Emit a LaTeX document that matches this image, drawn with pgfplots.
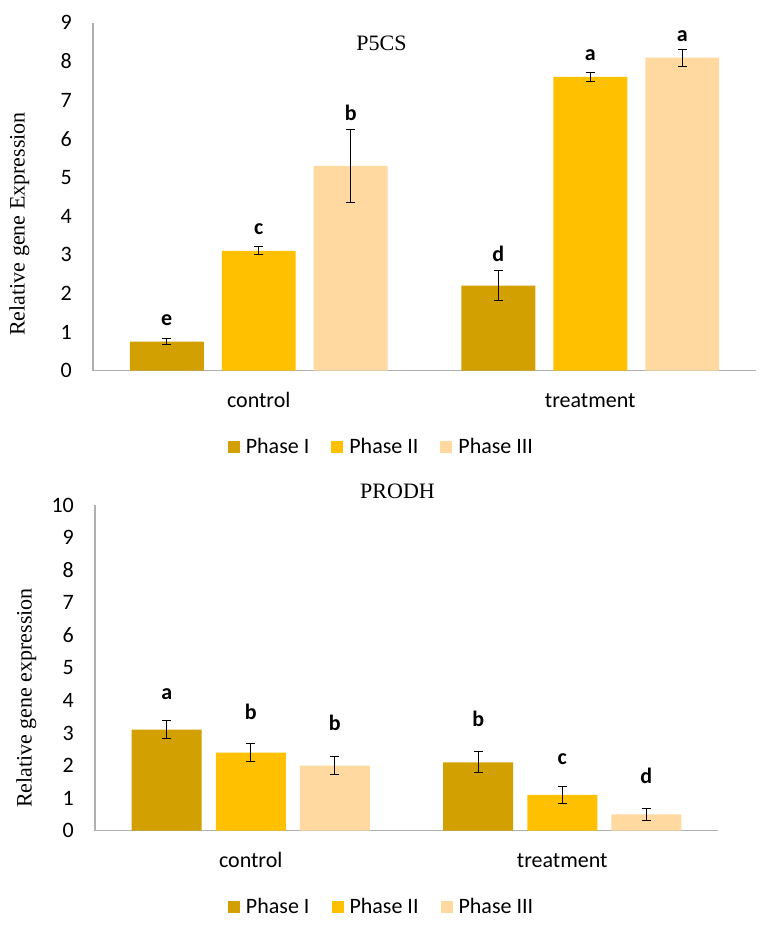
\documentclass[border=0pt]{standalone}
\usepackage{fontspec}
\setmainfont{Liberation Serif}
\newfontfamily\carl{Carlito}
\usepackage{pgfplots}
\pgfplotsset{compat=1.18}
\definecolor{phI}{RGB}{210,160,0}
\definecolor{phII}{RGB}{255,192,0}
\definecolor{phIII}{RGB}{255,217,160}
\definecolor{axgray}{RGB}{175,175,175}
\newcommand{\tfont}{\carl\fontsize{22bp}{25bp}\selectfont}
\newcommand{\lfont}{\carl\bfseries\fontsize{22bp}{25bp}\selectfont}
\newcommand{\sfont}{\fontsize{22bp}{26bp}\selectfont}
\pgfplotsset{
 mystyle/.style={
  scale only axis,
  ybar,
  xmin=-0.5, xmax=1.5, ymin=0,
  axis x line*=bottom, axis y line*=left,
  axis line style={draw=axgray, line width=1.2bp},
  major tick length=0pt,
  xtick={0,1}, xticklabels={control,treatment},
  /pgf/number format/assume math mode=true,
  ticklabel style={font=\tfont},
  yticklabel style={anchor=east, inner sep=0pt, xshift=-21bp},
  xticklabel style={anchor=base, inner sep=0pt, yshift=-36.5bp},
  error bars/y dir=both, error bars/y explicit,
  error bars/error bar style={black, line width=1bp},
  error bars/error mark options={black, rotate=90, mark size=4.7bp, line width=1bp},
  legend style={draw=none, fill=none, font=\tfont, legend columns=3,
    /tikz/every even column/.append style={column sep=20bp}},
  legend image code/.code={\fill[##1] (0bp,-6bp) rectangle (12bp,6bp);
     \path (0bp,0bp) -- (16bp,0bp);},
  clip=false,
 }
}
\begin{document}
\begin{tikzpicture}
\path[use as bounding box] (0,0) rectangle (762bp,-935bp);
% ---------- P5CS ----------
\begin{axis}[mystyle,
  at={(93bp,-370.7bp)}, anchor=south west,
  width=663bp, height=348bp,
  ymax=9, ytick={0,1,...,9},
  legend style={at={(0.435,-0.219)}, anchor=center}]
\addplot[fill=phI, draw=none, bar width=0.2232, bar shift=-0.2775]
  coordinates {(0,0.75) +- (0,0.07) (1,2.2) +- (0,0.38)};
\addplot[fill=phII, draw=none, bar width=0.2232, bar shift=0]
  coordinates {(0,3.1) +- (0,0.10) (1,7.6) +- (0,0.12)};
\addplot[fill=phIII, draw=none, bar width=0.2232, bar shift=0.2775]
  coordinates {(0,5.3) +- (0,0.95) (1,8.1) +- (0,0.22)};
\legend{Phase I, Phase II, Phase III}
\node[font=\lfont] at (axis cs:-0.2775,1.31) {e};
\node[font=\lfont] at (axis cs:0,3.66) {c};
\node[font=\lfont] at (axis cs:0.2775,6.67) {b};
\node[font=\lfont] at (axis cs:0.7225,3.02) {d};
\node[font=\lfont] at (axis cs:1,8.16) {a};
\node[font=\lfont] at (axis cs:1.2775,8.66) {a};
\end{axis}
\node[font=\sfont, anchor=base] at (381.5bp,-50bp) {P5CS};
\node[font=\sfont, rotate=90, anchor=base] at (24.5bp,-224bp) {Relative gene Expression};
% ---------- PRODH ----------
\begin{axis}[mystyle,
  at={(95bp,-830.7bp)}, anchor=south west,
  width=623bp, height=325.7bp,
  ymax=10, ytick={0,1,...,10},
  legend style={at={(0.46,-0.233)}, anchor=center}]
\addplot[fill=phI, draw=none, bar width=0.2247, bar shift=-0.2697]
  coordinates {(0,3.1) +- (0,0.27) (1,2.1) +- (0,0.32)};
\addplot[fill=phII, draw=none, bar width=0.2247, bar shift=0]
  coordinates {(0,2.4) +- (0,0.27) (1,1.1) +- (0,0.27)};
\addplot[fill=phIII, draw=none, bar width=0.2247, bar shift=0.2697]
  coordinates {(0,2.0) +- (0,0.27) (1,0.5) +- (0,0.18)};
\legend{Phase I, Phase II, Phase III}
\node[font=\lfont] at (axis cs:-0.2697,4.19) {a};
\node[font=\lfont] at (axis cs:0,3.64) {b};
\node[font=\lfont] at (axis cs:0.2697,3.30) {b};
\node[font=\lfont] at (axis cs:0.7303,3.42) {b};
\node[font=\lfont] at (axis cs:1,2.20) {c};
\node[font=\lfont] at (axis cs:1.2697,1.68) {d};
\end{axis}
\node[font=\sfont, anchor=base] at (397.5bp,-498.3bp) {PRODH};
\node[font=\sfont, rotate=90, anchor=base] at (31.5bp,-698bp) {Relative gene expression};
\end{tikzpicture}
\end{document}
